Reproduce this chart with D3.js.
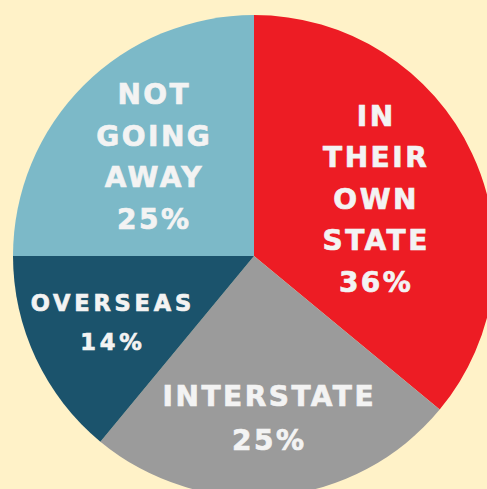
<!DOCTYPE html>
<html>
<head>
    <meta charset="utf-8" />
    <title>Where they go</title>
    <script src="https://cdn.jsdelivr.net/npm/d3@7"></script>
    <style>
        body { margin: 0; background: #FFF2C8; }
    </style>
</head>
<body>
</body>
<script>
    // data
    var categories = ['IN THEIR OWN STATE', 'INTERSTATE', 'OVERSEAS', 'NOT GOING AWAY'];
    var labelLines = [['IN', 'THEIR', 'OWN', 'STATE'], ['INTERSTATE'], ['OVERSEAS'], ['NOT', 'GOING', 'AWAY']];
    var values = [36, 25, 14, 25];
    var colors = ['#ED1C24', '#9B9B9B', '#1B536C', '#7CB9C8'];

    var width = 487, height = 489;
    var cx = 254, cy = 256, radius = 241;
    // where each label block sits (distance from centre) and its size
    var labelRadius = [135, 163, 156, 141];
    var fontSizes = [28, 28, 22.5, 28];
    var spacing = [2.5, 2.5, 3.8, 2.5];
    var lineGaps = [41.5, 44, 39, 41.5];

    var svg = d3.select('body').append('svg').attr('width', width).attr('height', height);
    svg.append('rect').attr('width', width).attr('height', height).attr('fill', '#FFF2C8');

    var pie = d3.pie().sort(null).value(function(d){ return d; });
    var arcs = pie(values);
    var arcPath = d3.arc().innerRadius(0).outerRadius(radius);

    var g = svg.append('g').attr('transform', 'translate(' + cx + ',' + cy + ')');

    g.selectAll('path').data(arcs).enter().append('path')
        .attr('d', arcPath)
        .attr('fill', function(d, i){ return colors[i]; });

    var labels = g.selectAll('text').data(arcs).enter().append('text')
        .attr('transform', function(d, i){
            var a = (d.startAngle + d.endAngle) / 2;
            var r = labelRadius[i];
            return 'translate(' + (Math.sin(a) * r) + ',' + (-Math.cos(a) * r) + ')';
        })
        .attr('text-anchor', 'middle')
        .attr('fill', '#F3F3F3')
        .attr('stroke', '#F3F3F3')
        .attr('stroke-width', 0.7)
        .attr('font-family', 'DejaVu Sans, sans-serif')
        .attr('font-weight', 'bold')
        .attr('letter-spacing', function(d, i){ return spacing[i] + 'px'; })
        .attr('font-size', function(d, i){ return fontSizes[i] + 'px'; });

    labels.each(function(d, i){
        var lines = labelLines[i].concat([values[i] + '%']);
        var gap = lineGaps[i];
        var n = lines.length;
        var t = d3.select(this);
        lines.forEach(function(line, k){
            t.append('tspan')
                .attr('x', 0)
                .attr('y', (k - (n - 1) / 2) * gap + fontSizes[i] * 0.36)
                .text(line);
        });
    });
</script>
</html>
